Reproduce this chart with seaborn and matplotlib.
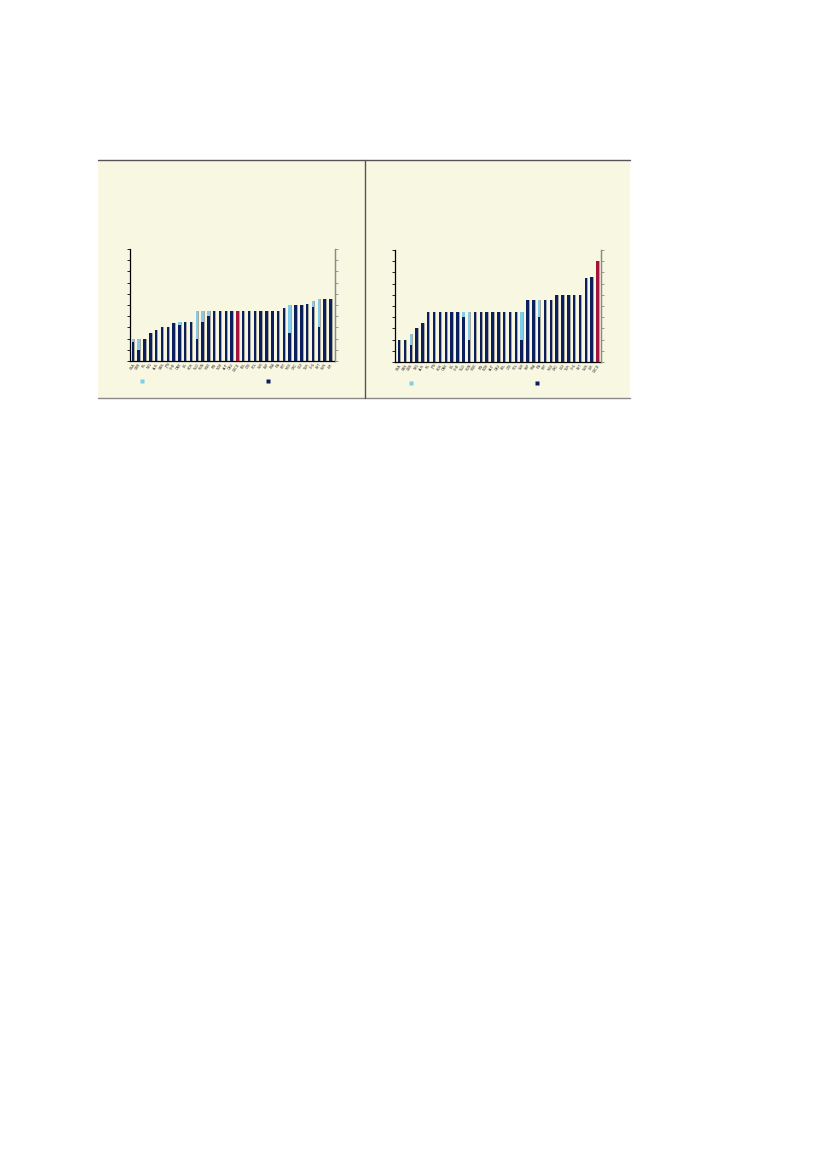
import matplotlib
matplotlib.use("Agg")
import matplotlib.pyplot as plt
import seaborn as sns
import pandas as pd
import numpy as np
from matplotlib.lines import Line2D
from matplotlib.patches import Rectangle

sns.set_style("white")
plt.rcParams['font.family'] = ['DejaVu Sans']

# ---------------- data ----------------
left_labels = ["USA", "GBR", "IRL", "NZL", "AUS", "CAN", "JPN", "CHE", "DNK", "ISL",
               "KOR", "NLD", "HUN", "SWE", "FIN", "NOR", "AUT", "DEU", "OECD", "BEL",
               "CZE", "POL", "SVK", "ESP", "FRA", "ITA", "PRT", "MEX", "GRC", "LUX",
               "TUR", "CHL", "EST", "SVN", "ISR"]
left_total = [2.0, 2.0, 2.0, 2.5, 2.8, 3.0, 3.0, 3.4, 3.5, 3.5,
              3.5, 4.5, 4.5, 4.5, 4.5, 4.5, 4.5, 4.5, 4.5, 4.5,
              4.5, 4.5, 4.5, 4.5, 4.5, 4.5, 4.75, 5.0, 5.0, 5.0,
              5.1, 5.35, 5.5, 5.5, 5.5]
left_dark = [1.7, 1.0, 2.0, 2.5, 2.8, 3.0, 3.0, 3.4, 3.2, 3.5,
             3.5, 2.0, 3.5, 4.0, 4.5, 4.5, 4.5, 4.5, 4.5, 4.5,
             4.5, 4.5, 4.5, 4.5, 4.5, 4.5, 4.75, 2.5, 5.0, 5.0,
             5.1, 4.85, 3.0, 5.5, 5.5]

right_labels = ["USA", "CAN", "GBR", "NZL", "AUS", "IRL", "JPN", "KOR", "DNK", "ISL",
                "CHE", "NLD", "HUN", "SWE", "FIN", "NOR", "AUT", "DEU", "BEL", "CZE",
                "POL", "SVK", "ESP", "FRA", "ITA", "PRT", "MEX", "GRC", "LUX", "TUR",
                "CHL", "EST", "SVN", "ISR", "OECD"]
right_total = [2.0, 2.0, 2.5, 3.0, 3.5, 4.5, 4.5, 4.5, 4.5, 4.5,
               4.5, 4.5, 4.5, 4.5, 4.5, 4.5, 4.5, 4.5, 4.5, 4.5,
               4.5, 4.5, 5.5, 5.5, 5.5, 5.5, 5.5, 6.0, 6.0, 6.0,
               6.0, 6.0, 7.5, 7.6, 9.0]
right_dark = [2.0, 2.0, 1.5, 3.0, 3.5, 4.5, 4.5, 4.5, 4.5, 4.5,
              4.5, 4.0, 2.0, 4.5, 4.5, 4.5, 4.5, 4.5, 4.5, 4.5,
              4.5, 2.0, 5.5, 5.5, 4.0, 5.5, 5.5, 6.0, 6.0, 6.0,
              6.0, 6.0, 7.5, 7.6, 9.0]

left_highlight = "OECD"
right_highlight = "OECD"

# ---------------- styles ----------------
BEIGE = "#f8f7e1"
LIGHT = "#7fcdea"
NAVY = "#0b1f5e"
RED = "#a3123a"
SHADOW = "#a9a9a0"
BAR_W = 0.42

fig = plt.figure(figsize=(8.27, 11.69), dpi=100)
W, H = 827, 1169


def fx(px):
    return px / W


def fy(py):
    return 1 - py / H


# beige panel box
fig.patches.append(Rectangle((fx(98), fy(398)), fx(630) - fx(98), fy(160) - fy(398),
                             transform=fig.transFigure, facecolor=BEIGE,
                             edgecolor="none", zorder=-5))
fig.add_artist(Line2D([fx(98), fx(630)], [fy(160.5), fy(160.5)], color="#555555", lw=1.0, zorder=-1))
fig.add_artist(Line2D([fx(98), fx(630)], [fy(398), fy(398)], color="#8a8a8a", lw=1.0, zorder=-1))
fig.add_artist(Line2D([fx(364.5), fx(364.5)], [fy(160), fy(398)], color="#555555", lw=1.0, zorder=-1))

BAR_KW = dict(width=BAR_W, saturation=1, linewidth=0, edgecolor="none")


def draw_panel(rect, labels, total, dark, highlight, xlim):
    ax = fig.add_axes(rect)
    ax.set_facecolor("none")
    df = pd.DataFrame({"cat": labels, "total": total, "dark": dark})
    cols = [RED if c == highlight else NAVY for c in labels]
    # shadow
    sns.barplot(data=df, x="cat", y="total", order=labels, color=SHADOW,
                ax=ax, zorder=1, **BAR_KW)
    n_sh = len(ax.patches)
    for p in ax.patches[:n_sh]:
        p.set_x(p.get_x() + 0.17)
    sns.barplot(data=df, x="cat", y="total", order=labels, color=LIGHT,
                ax=ax, zorder=2, **BAR_KW)
    sns.barplot(data=df, x="cat", y="dark", order=labels, hue="cat",
                hue_order=labels, palette=cols, ax=ax,
                zorder=3, legend=False, dodge=False, **BAR_KW)
    ax.set_xlim(*xlim)
    ax.set_ylim(0, 10)
    ax.set_yticks(np.arange(0, 11, 1))
    ax.set_yticklabels([])
    ax.set_xlabel("")
    ax.set_ylabel("")
    ax.set_xticks(range(len(labels)))
    ax.set_xticklabels(labels, rotation=55, fontsize=2.3, color="#333333",
                       ha="right", rotation_mode="anchor")
    ax.tick_params(axis="x", length=0, pad=1)
    ax.tick_params(axis="y", direction="out", length=2.2, width=0.6,
                   color="black", left=True)
    ax.spines["top"].set_visible(False)
    ax.spines["left"].set_color("black")
    ax.spines["left"].set_linewidth(0.9)
    ax.spines["bottom"].set_color("black")
    ax.spines["bottom"].set_linewidth(0.9)
    ax.spines["right"].set_color("#8a8a8a")
    ax.spines["right"].set_linewidth(0.9)
    ax2 = ax.twinx()
    ax2.set_ylim(0, 10)
    ax2.set_yticks(np.arange(0, 11, 1))
    ax2.set_yticklabels([])
    ax2.tick_params(axis="y", direction="out", length=2.2, width=0.6,
                    color="#8a8a8a")
    for s in ["top", "left", "bottom"]:
        ax2.spines[s].set_visible(False)
    ax2.spines["right"].set_color("#8a8a8a")
    ax2.spines["right"].set_linewidth(0.9)
    return ax


draw_panel([fx(130), fy(361), fx(335) - fx(130), fy(249) - fy(361)],
           left_labels, left_total, left_dark, left_highlight, (-0.5, 34.8))
draw_panel([fx(395), fy(362), fx(601) - fx(395), fy(250) - fy(362)],
           right_labels, right_total, right_dark, right_highlight, (-0.7, 34.6))

# legend markers
for (px, py, c) in [(139, 382, LIGHT), (265, 382, NAVY), (408, 384, LIGHT), (534, 384, NAVY)]:
    h = Line2D([], [], marker="s", color="none", markerfacecolor=c,
               markeredgecolor="none", markersize=3.2)
    fig.legend(handles=[h], labels=[""], loc="center",
               bbox_to_anchor=(fx(px + 3), fy(py)), frameon=False,
               handlelength=0.6, handletextpad=0, borderpad=0, borderaxespad=0)

fig.savefig("out.png", dpi=100, facecolor="white")
